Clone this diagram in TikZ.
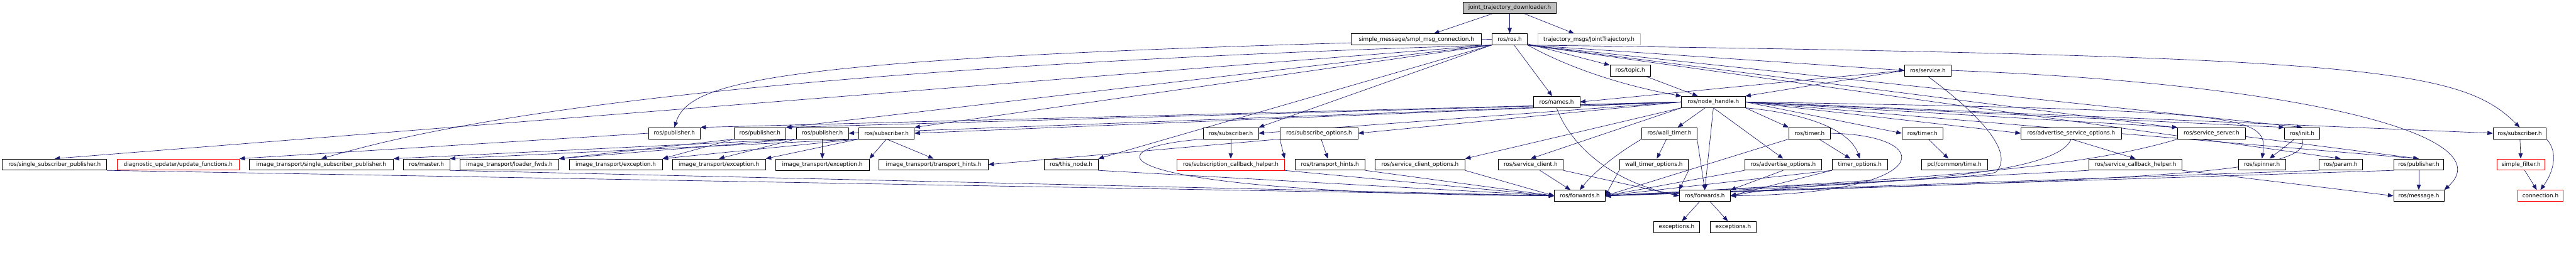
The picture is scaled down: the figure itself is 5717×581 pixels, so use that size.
\documentclass[tikz,border=0pt]{standalone}
\usepackage{fontspec}
\setmainfont{DejaVu Sans}
\usepackage{tikz}
\usetikzlibrary{arrows.meta}
\definecolor{midnight}{HTML}{191970}
\definecolor{lightgrey}{HTML}{BFBFBF}
\pgfdeclarelayer{edges}
\pgfsetlayers{edges,main}
\tikzset{
    header/.style={draw=black, fill=white, rectangle, line width=0.8pt, minimum height=18.75pt, inner sep=1pt, font=\fontsize{9.3}{11}\selectfont},
    boxw/.style={minimum width=#1*0.75pt},
    trunc/.style={draw=red},
    arrow/.style={draw=midnight, line width=0.7pt, -{Triangle[length=9pt, width=7pt]}}
}
\begin{document}
\begin{tikzpicture}[x=0.75pt, y=-0.75pt, node distance=52.2pt]
\useasboundingbox (0,0) rectangle (5717,581);
\node[header, boxw=207, fill=lightgrey] (top) at (3350.5,17.5) {joint\_trajectory\_downloader.h};
\node[header, boxw=289] (smpl) at (3143.5,87.5) {simple\_message/smpl\_msg\_connection.h};
\node[header, boxw=79, below of=top] (rosh) {ros/ros.h};
\node[header, boxw=227, draw=lightgrey] (jtraj) at (3526.5,87.5) {trajectory\_msgs/JointTrajectory.h};
\node[header, boxw=90] (topic) at (3618,156.5) {ros/topic.h};
\node[header, boxw=103] (service) at (4278.5,156.5) {ros/service.h};
\node[header, boxw=103] (names) at (3454.5,226.5) {ros/names.h};
\node[header, boxw=141] (nh) at (3802.5,226.5) {ros/node\_handle.h};
\node[header, boxw=115] (pubA) at (1496.5,296) {ros/publisher.h};
\node[header, boxw=115] (pubB) at (1686.5,296) {ros/publisher.h};
\node[header, boxw=116] (pubC) at (1825,296) {ros/publisher.h};
\node[header, boxw=123] (subA) at (1967.5,296) {ros/subscriber.h};
\node[header, boxw=123] (subB) at (2731.5,296) {ros/subscriber.h};
\node[header, boxw=173] (subopts) at (2927.5,296) {ros/subscribe\_options.h};
\node[header, boxw=122] (walltimer) at (3705,296) {ros/wall\_timer.h};
\node[header, boxw=92] (timerA) at (4016,296) {ros/timer.h};
\node[header, boxw=91] (timerB) at (4266.5,296) {ros/timer.h};
\node[header, boxw=223] (advsrvopts) at (4596.5,296) {ros/advertise\_service\_options.h};
\node[header, boxw=150] (servserver) at (4908,296) {ros/service\_server.h};
\node[header, boxw=78] (init) at (5109,296) {ros/init.h};
\node[header, boxw=118] (subC) at (5592,296) {ros/subscriber.h};
\node[header, boxw=232] (sspub) at (121,365.5) {ros/single\_subscriber\_publisher.h};
\node[header, boxw=271, trunc] (updfun) at (395.5,365.5) {diagnostic\_updater/update\_functions.h};
\node[header, boxw=320] (itsspub) at (713,365.5) {image\_transport/single\_subscriber\_publisher.h};
\node[header, boxw=103] (master) at (946.5,365.5) {ros/master.h};
\node[header, boxw=219] (loader) at (1130.5,365.5) {image\_transport/loader\_fwds.h};
\node[header, boxw=207] (itexcA) at (1366.5,365.5) {image\_transport/exception.h};
\node[header, boxw=207] (itexcB) at (1595.5,365.5) {image\_transport/exception.h};
\node[header, boxw=208, below of=pubC] (itexcC) {image\_transport/exception.h};
\node[header, boxw=242] (ittrans) at (2072,365.5) {image\_transport/transport\_hints.h};
\node[header, boxw=120] (thisnode) at (2377,365.5) {ros/this\_node.h};
\node[header, boxw=238, trunc, below of=subB] (subcb) {ros/subscription\_callback\_helper.h};
\node[header, boxw=155] (transhints) at (2951.5,365.5) {ros/transport\_hints.h};
\node[header, boxw=199] (scopts) at (3151.5,365.5) {ros/service\_client\_options.h};
\node[header, boxw=144] (servclient) at (3397,365.5) {ros/service\_client.h};
\node[header, boxw=153] (wtopts) at (3670.5,365.5) {wall\_timer\_options.h};
\node[header, boxw=171] (advopts) at (3957.5,365.5) {ros/advertise\_options.h};
\node[header, boxw=123] (topts) at (4127.5,365.5) {timer\_options.h};
\node[header, boxw=147] (pcltime) at (4337.5,365.5) {pcl/common/time.h};
\node[header, boxw=207] (svccb) at (4739.5,365.5) {ros/service\_callback\_helper.h};
\node[header, boxw=104] (spinner) at (5020,365.5) {ros/spinner.h};
\node[header, boxw=97] (param) at (5194.5,365.5) {ros/param.h};
\node[header, boxw=110] (pubD) at (5368,365.5) {ros/publisher.h};
\node[header, boxw=106, trunc] (sfilter) at (5595,365.5) {simple\_filter.h};
\node[header, boxw=112] (fwdA) at (3506,435) {ros/forwards.h};
\node[header, boxw=113] (fwdB) at (3783.5,435) {ros/forwards.h};
\node[header, boxw=112, below of=pubD] (message) {ros/message.h};
\node[header, boxw=100, trunc] (conn) at (5638,435) {connection.h};
\node[header, boxw=102] (excA) at (3721,504.5) {exceptions.h};
\node[header, boxw=103] (excB) at (3846.5,504.5) {exceptions.h};
\begin{pgfonlayer}{edges}
\draw[arrow] (top) -- (smpl);
\draw[arrow] (top) -- (rosh);
\draw[arrow] (top) -- (jtraj);
\draw[arrow] (rosh.south west) -- (sspub.north);
\draw[arrow] (rosh.south west) .. controls (1400,160) and (900,300) .. (itsspub.north);
\draw[arrow] (rosh.west) .. controls (1700,125) and (1530,180) .. (pubA.north);
\draw[arrow] (rosh.south west) -- (pubB.north east);
\draw[arrow] (rosh.south west) -- (subA.north east);
\draw[arrow] (rosh.south west) -- (subB.north east);
\draw[arrow] (rosh.south west) -- (thisnode.north east);
\draw[arrow] (rosh) -- (names);
\draw[arrow] (rosh) -- (topic);
\draw[arrow] (rosh.south east) .. controls (3480,150) and (3600,190) .. (nh.north west);
\draw[arrow] (rosh.south east) -- (service.west);
\draw[arrow] (rosh.south east) -- (init.north);
\draw[arrow] (rosh.south east) -- (param.north);
\draw[arrow] (rosh.south east) -- (pubD.north);
\draw[arrow] (rosh.south east) .. controls (5250,125) and (5460,150) .. (subC.north);
\draw[arrow] (topic) -- (nh);
\draw[arrow] (service.west) -- (nh.north east);
\draw[arrow] (service.west) -- (names.east);
\draw[arrow] (service.south) .. controls (4400,260) and (4470,340) .. (4430,382) .. controls (4400,398) and (4000,405) .. (fwdB.east);
\draw[arrow] (service.east) .. controls (5100,185) and (5560,300) .. (message.north east);
\draw[arrow] (names.south) .. controls (3480,310) and (3560,400) .. (fwdB.west);
\draw[arrow] (nh.west) -- (pubA.north east);
\draw[arrow] (nh.west) -- (pubB.north east);
\draw[arrow] (nh.west) -- (pubC.east);
\draw[arrow] (nh.west) -- (subA.east);
\draw[arrow] (nh.west) -- (subB.east);
\draw[arrow] (nh.west) -- (subopts.east);
\draw[arrow] (nh.south west) -- (scopts.north east);
\draw[arrow] (nh.south west) -- (servclient.north);
\draw[arrow] (nh) -- (walltimer);
\draw[arrow] (nh.south) -- (fwdB.north);
\draw[arrow] (nh.south) -- (advopts.north);
\draw[arrow] (nh.south east) -- (timerA.north west);
\draw[arrow] (nh.south east) .. controls (4040,255) and (4110,300) .. (topts.north);
\draw[arrow] (nh.east) -- (timerB.west);
\draw[arrow] (nh.east) -- (advsrvopts.west);
\draw[arrow] (nh.east) -- (servserver.north west);
\draw[arrow] (nh.east) .. controls (4990,245) and (5035,255) .. (spinner.north);
\draw[arrow] (nh.east) -- (init.north west);
\draw[arrow] (nh.east) -- (subC.west);
\draw[arrow] (nh.east) -- (pubD.north);
\draw[arrow] (pubA.west) -- (updfun.north east);
\draw[arrow] (pubB.south west) -- (loader.north east);
\draw[arrow] (pubB.south west) -- (itexcA.north east);
\draw[arrow] (pubC.south west) -- (itsspub.north east);
\draw[arrow] (pubC.south west) -- (loader.north east);
\draw[arrow] (pubC.south west) -- (itexcB.north);
\draw[arrow] (pubC) -- (itexcC);
\draw[arrow] (subA.south west) -- (master.north east);
\draw[arrow] (subA.south west) -- (itexcA.north east);
\draw[arrow] (subA.south west) -- (itexcB.north east);
\draw[arrow] (subA.south) -- (itexcC.north east);
\draw[arrow] (subA.south) -- (ittrans.north);
\draw[arrow] (subopts.south west) -- (subcb.north east);
\draw[arrow] (subopts) -- (transhints);
\draw[arrow] (subopts.south west) -- (ittrans.east);
\draw[arrow] (subB) -- (subcb);
\draw[arrow] (subB.south west) .. controls (2400,330) and (2450,430) .. (fwdA.west);
\draw[arrow] (sspub.south east) -- (fwdA.west);
\draw[arrow] (master.south east) -- (fwdA.west);
\draw[arrow] (thisnode.south east) -- (fwdA.west);
\draw[arrow] (subcb.south east) -- (fwdA.west);
\draw[arrow] (transhints.south east) -- (fwdA.west);
\draw[arrow] (scopts.south east) -- (fwdA.west);
\draw[arrow] (servclient) -- (fwdA);
\draw[arrow] (servclient.south east) -- (fwdB.west);
\draw[arrow] (walltimer) -- (wtopts);
\draw[arrow] (walltimer.south west) .. controls (3590,340) and (3540,380) .. (fwdA.north);
\draw[arrow] (walltimer.south east) -- (fwdB.north);
\draw[arrow] (wtopts.south west) -- (fwdA.east);
\draw[arrow] (wtopts.south east) -- (fwdB.north west);
\draw[arrow] (timerA) -- (topts);
\draw[arrow] (timerA.south west) -- (fwdA.east);
\draw[arrow] (timerA.east) .. controls (4300,300) and (4300,430) .. (fwdB.east);
\draw[arrow] (topts.south west) -- (fwdA.east);
\draw[arrow] (topts.south west) -- (fwdB.east);
\draw[arrow] (advopts.south west) -- (fwdA.east);
\draw[arrow] (advopts.south) -- (fwdB.north east);
\draw[arrow] (timerB) -- (pcltime);
\draw[arrow] (advsrvopts.south) -- (svccb.north);
\draw[arrow] (advsrvopts.south) .. controls (4560,400) and (4100,410) .. (fwdA.east);
\draw[arrow] (servserver.south west) .. controls (4600,380) and (4200,400) .. (fwdA.east);
\draw[arrow] (svccb.south west) -- (fwdA.east);
\draw[arrow] (svccb.south east) -- (message.west);
\draw[arrow] (init) -- (spinner);
\draw[arrow] (init.south) .. controls (5140,390) and (4700,400) .. (fwdA.east);
\draw[arrow] (param.south west) -- (fwdA.east);
\draw[arrow] (pubD) -- (message);
\draw[arrow] (pubD.south west) -- (fwdA.east);
\draw[arrow] (subC) -- (sfilter);
\draw[arrow] (subC.south east) .. controls (5680,340) and (5665,385) .. (conn.north);
\draw[arrow] (sfilter) -- (conn);
\draw[arrow] (fwdB) -- (excA);
\draw[arrow] (fwdB) -- (excB);
\end{pgfonlayer}
\end{tikzpicture}
\end{document}
